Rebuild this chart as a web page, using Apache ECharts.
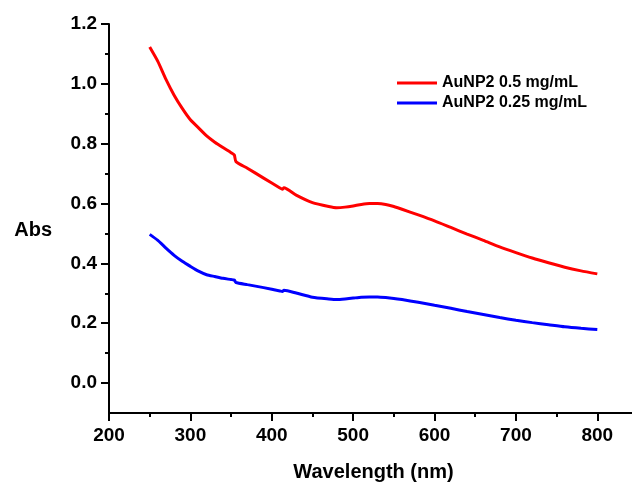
<!DOCTYPE html>
<html>
<head>
<meta charset="utf-8">
<script src="https://cdn.jsdelivr.net/npm/echarts@6/dist/echarts.min.js"></script>
<style>
  html, body { margin: 0; padding: 0; background: #fff; }
  #chart { width: 632px; height: 483px; }
</style>
</head>
<body>
<div id="chart"></div>
<script>
  // wavelengths (nm), both series share them
  const wavelength = [250, 260, 270, 280, 290, 300, 310, 320, 330, 340, 350, 354, 356, 370, 390, 410, 413, 415, 430, 450, 470, 480, 490, 500, 510, 520, 530, 540, 550, 560, 580, 600, 620, 640, 660, 680, 700, 720, 740, 760, 780, 800];
  const absHigh = [1.123, 1.075, 1.015, 0.962, 0.918, 0.88, 0.853, 0.826, 0.805, 0.787, 0.77, 0.762, 0.74, 0.718, 0.685, 0.652, 0.648, 0.653, 0.628, 0.603, 0.59, 0.586, 0.588, 0.592, 0.597, 0.6, 0.6, 0.597, 0.59, 0.581, 0.562, 0.542, 0.52, 0.498, 0.477, 0.455, 0.436, 0.418, 0.402, 0.387, 0.375, 0.365];
  const absLow = [0.497, 0.477, 0.451, 0.427, 0.407, 0.39, 0.374, 0.362, 0.356, 0.35, 0.346, 0.344, 0.336, 0.329, 0.319, 0.308, 0.306, 0.31, 0.301, 0.287, 0.281, 0.279, 0.281, 0.284, 0.287, 0.288, 0.288, 0.286, 0.283, 0.279, 0.27, 0.26, 0.25, 0.239, 0.229, 0.219, 0.21, 0.202, 0.195, 0.188, 0.183, 0.179];

  const xTicks = [200, 300, 400, 500, 600, 700, 800];
  const xMinorTicks = [250, 350, 450, 550, 650, 750];
  const yTicks = [0, 0.2, 0.4, 0.6, 0.8, 1.0, 1.2];
  const yMinorTicks = [0.1, 0.3, 0.5, 0.7, 0.9, 1.1];

  const FONT = 'Liberation Sans, Arial, sans-serif';
  const chart = echarts.init(document.getElementById('chart'));

  const toPairs = (ys) => wavelength.map((x, i) => [x, ys[i]]);

  const baseX = { type: 'value', min: 200, max: 850, position: 'bottom', splitLine: { show: false } };
  const baseY = { type: 'value', min: -0.1, max: 1.2, position: 'left', splitLine: { show: false } };

  const option = {
    animation: false,
    grid: { left: 109, top: 24, right: -6, bottom: 70, containLabel: false, outerBoundsMode: 'none' },
    legend: {
      left: 397,
      top: 75,
      padding: 0,
      orient: 'vertical',
      icon: 'rect',
      itemWidth: 40,
      itemHeight: 3,
      itemGap: 4,
      textStyle: { fontFamily: FONT, fontWeight: 'bold', fontSize: 16, lineHeight: 16, color: '#000' },
      data: ['AuNP2 0.5 mg/mL', 'AuNP2 0.25 mg/mL'],
    },
    xAxis: [
      {
        ...baseX,
        name: 'Wavelength (nm)',
        nameLocation: 'middle',
        nameGap: 49,
        nameTextStyle: { fontFamily: FONT, fontWeight: 'bold', fontSize: 20, color: '#000' },
        axisLine: { onZero: false, lineStyle: { color: '#000', width: 2 } },
        axisTick: { inside: false, length: 8, customValues: xTicks, lineStyle: { color: '#000', width: 2 } },
        axisLabel: {
          margin: 13,
          customValues: xTicks,
          fontFamily: FONT, fontWeight: 'bold', fontSize: 19, color: '#000',
        },
      },
      {
        ...baseX,
        axisLine: { show: false, onZero: false },
        axisTick: { inside: false, length: 4, customValues: xMinorTicks, lineStyle: { color: '#000', width: 2 } },
        axisLabel: { show: false },
      },
    ],
    yAxis: [
      {
        ...baseY,
        name: 'Abs',
        nameLocation: 'middle',
        nameRotate: 0,
        nameGap: 57,
        nameTextStyle: { fontFamily: FONT, fontWeight: 'bold', fontSize: 20, color: '#000', verticalAlign: 'top', padding: [2, 0, 0, 0] },
        axisLine: { onZero: false, lineStyle: { color: '#000', width: 2 } },
        axisTick: { inside: false, length: 8, customValues: yTicks, lineStyle: { color: '#000', width: 2 } },
        axisLabel: {
          margin: 12,
          customValues: yTicks,
          formatter: (v) => v.toFixed(1),
          fontFamily: FONT, fontWeight: 'bold', fontSize: 19, color: '#000',
        },
      },
      {
        ...baseY,
        axisLine: { show: false, onZero: false },
        axisTick: { inside: false, length: 4, customValues: yMinorTicks, lineStyle: { color: '#000', width: 2 } },
        axisLabel: { show: false },
      },
    ],
    series: [
      {
        name: 'AuNP2 0.5 mg/mL',
        type: 'line',
        data: toPairs(absHigh),
        showSymbol: false,
        symbol: 'none',
        smooth: 0.2,
        color: '#ff0000',
        lineStyle: { color: '#ff0000', width: 3 },
      },
      {
        name: 'AuNP2 0.25 mg/mL',
        type: 'line',
        data: toPairs(absLow),
        showSymbol: false,
        symbol: 'none',
        smooth: 0.2,
        color: '#0000ff',
        lineStyle: { color: '#0000ff', width: 3 },
      },
    ],
  };

  chart.setOption(option);
</script>
</body>
</html>
